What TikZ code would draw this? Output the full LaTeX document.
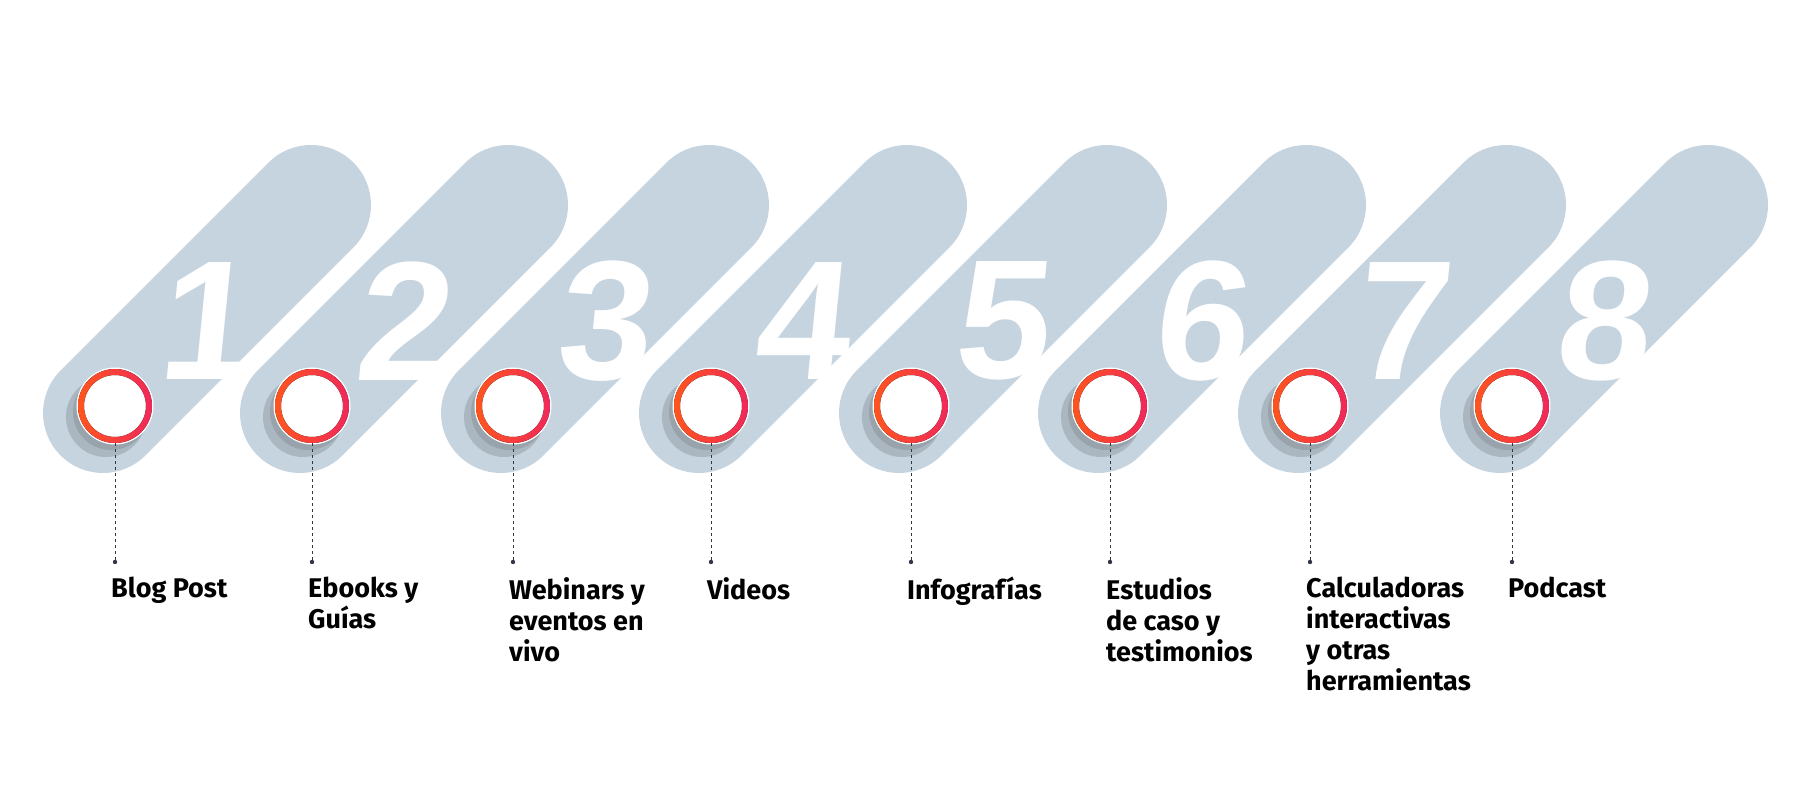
\documentclass[tikz,border=0pt]{standalone}
\usepackage{fontspec}
\setmainfont{Fira Sans}
\newfontfamily\digitfont{Liberation Sans}
\definecolor{pillgray}{RGB}{198,212,224}
\definecolor{ringorange}{RGB}{255,85,30}
\definecolor{ringpink}{RGB}{240,40,90}
\definecolor{dashgray}{RGB}{50,55,70}
\tikzset{
    pill/.style={line width=120pt,line cap=round,pillgray},
    digit/.style={white,font=\digitfont\fontsize{170}{170}\selectfont\bfseries,xslant=0.1},
    label/.style={anchor=north west,align=left,inner sep=0pt,
        font=\fontsize{27}{31}\selectfont\bfseries}
}
\begin{document}
\begin{tikzpicture}[x=1pt,y=1pt]
    \useasboundingbox (0,0) rectangle (1801,801);
    \foreach \i/\cx/\txt in {1/115/{Blog Post},2/312/{Ebooks y\\Guías},
        3/513/{Webinars y\\eventos en\\vivo},4/711/{Videos},5/911/{Infografías},
        6/1110/{Estudios\\de caso y\\testimonios},
        7/1310/{Calculadoras\\interactivas\\y otras\\herramientas},8/1512/{Podcast}} {
        \draw [pill] (\cx-12,388) -- (\cx+196,596);
        \node [digit] (d\i) at (\cx+95,480) {\i};
        % shadow under the ring
        \fill [black,opacity=0.14] (\cx-9,384) circle (40);
        \fill [black,opacity=0.10] (\cx-4,389) circle (38);
        \fill [white] (\cx,395) circle (38.5);
        \fill [left color=ringorange,right color=ringpink,even odd rule]
            (\cx,395) circle (37) (\cx,395) circle (31);
        \node [circle,minimum size=74pt,inner sep=0pt] (c\i) at (\cx,395) {};
        \coordinate (e\i) at (\cx,239);
        \draw [dashgray,dashed,line width=0.8pt] (c\i.south) -- (e\i);
        \fill [dashgray] (e\i) circle (2.2);
        \node [label] (lbl\i) at (\cx-4,224) {\txt};
    }
\end{tikzpicture}
\end{document}
